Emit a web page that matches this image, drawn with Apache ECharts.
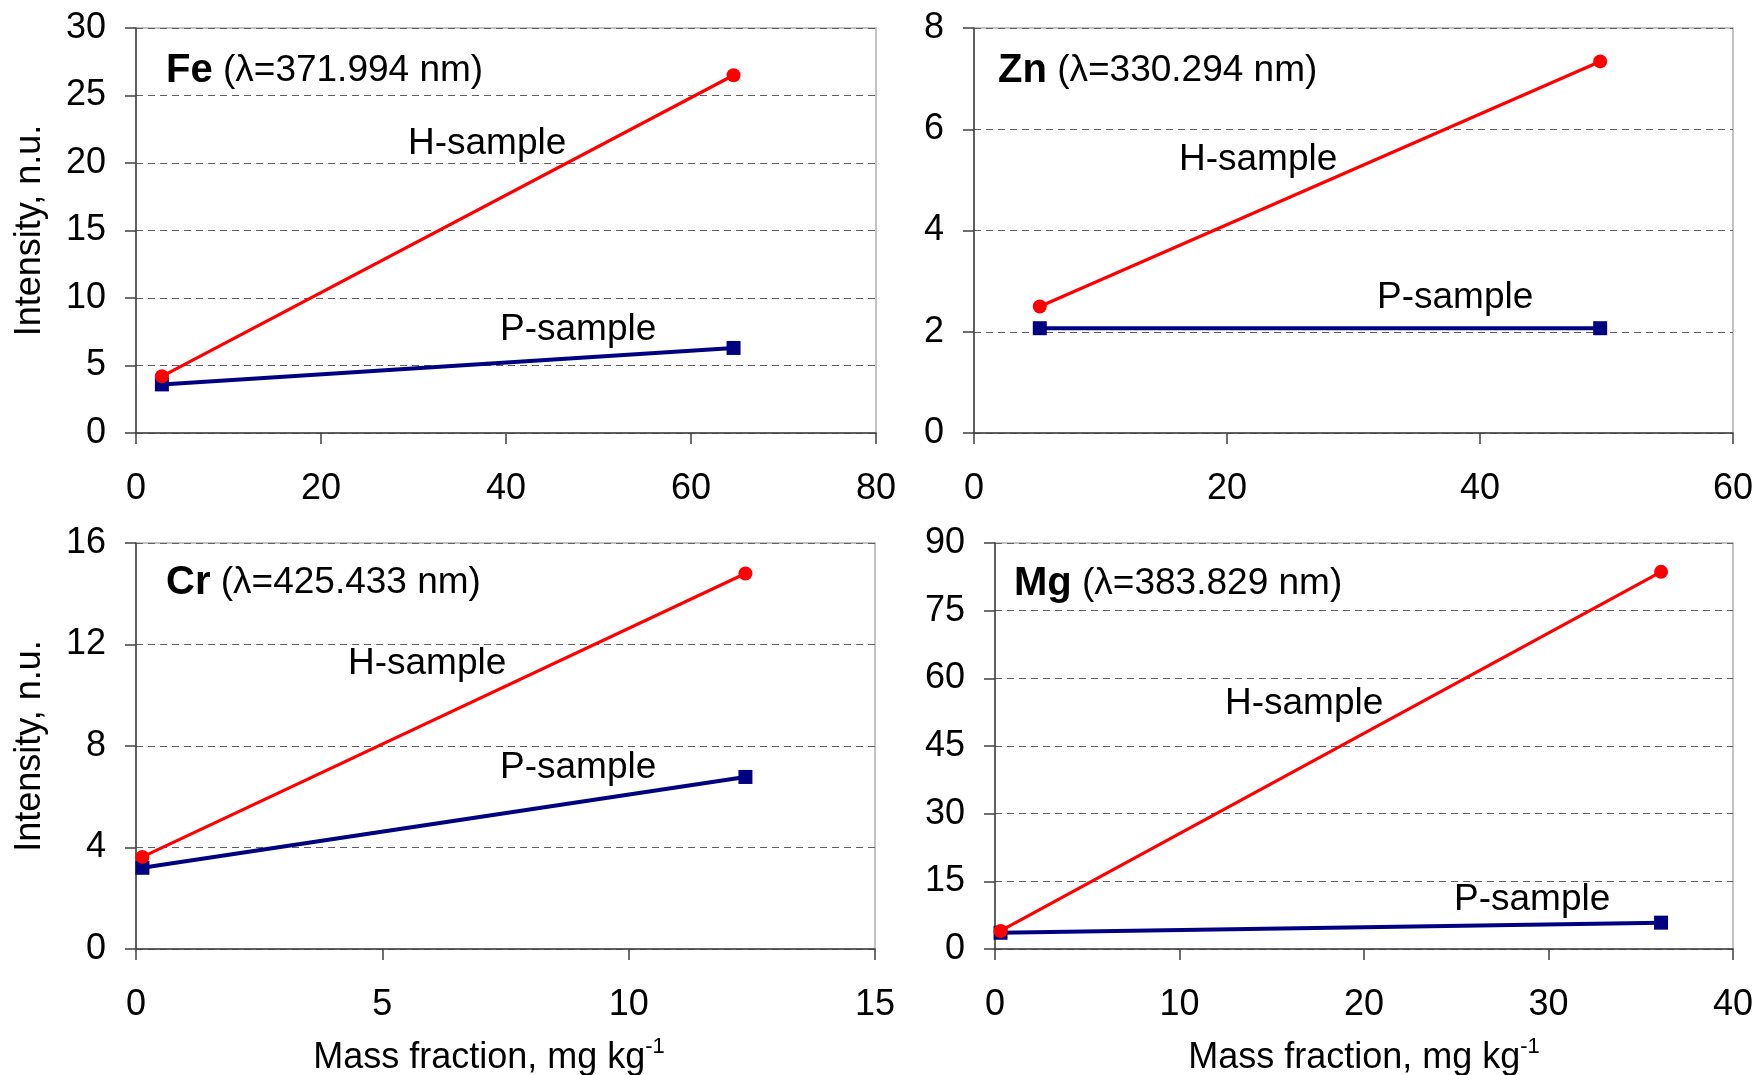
<!DOCTYPE html>
<html>
<head>
<meta charset="utf-8">
<script src="https://cdn.jsdelivr.net/npm/echarts@6/dist/echarts.min.js"></script>
<style>
  html, body { margin: 0; padding: 0; background: #fff; }
  #chart { width: 1758px; height: 1075px; }
</style>
</head>
<body>
<div id="chart"></div>
<script>
// values (x = mass fraction, y = intensity)
const feMass = [2.8, 64.6];
const feH = [4.2, 26.5];
const feP = [3.6, 6.3];

const znMass = [5.2, 49.5];
const znH = [2.5, 7.34];
const znP = [2.07, 2.07];

const crMass = [0.13, 12.37];
const crH = [3.63, 14.8];
const crP = [3.2, 6.78];

const mgMass = [0.3, 36.1];
const mgH = [4.0, 83.6];
const mgP = [3.6, 5.84];

const panelNames = ['Fe', 'Zn', 'Cr', 'Mg'];
const panelLines = ['371.994', '330.294', '425.433', '383.829'];
const xMax = [80, 60, 15, 40];
const xStep = [20, 20, 5, 10];
const yMax = [30, 8, 16, 90];
const yStep = [5, 2, 4, 15];

const FONT = '"Liberation Sans", Arial, sans-serif';
const AXIS_COLOR = '#404040';

var chart = echarts.init(document.getElementById('chart'));

// grid boxes in px
var grids = [
  { left: 136, top: 28, width: 740, height: 405 },
  { left: 974, top: 28, width: 759, height: 405 },
  { left: 136, top: 543, width: 739, height: 406 },
  { left: 995, top: 543, width: 738, height: 406 }
];

function pairs(xs, ys) {
  return xs.map(function (x, i) { return [x, ys[i]]; });
}

var masses = [feMass, znMass, crMass, mgMass];
var hVals = [feH, znH, crH, mgH];
var pVals = [feP, znP, crP, mgP];

var xAxes = [], yAxes = [], series = [];
grids.forEach(function (g, i) {
  g.show = true;
  g.borderColor = '#b0b0b0';
  g.borderWidth = 1.5;
  xAxes.push({
    type: 'value', gridIndex: i, min: 0, max: xMax[i], interval: xStep[i],
    axisLine: { show: true, onZero: false, lineStyle: { color: AXIS_COLOR, width: 1.5 } },
    axisTick: { show: true, length: 11, lineStyle: { color: AXIS_COLOR, width: 1.5 } },
    axisLabel: { margin: 38, fontSize: 36, color: '#000', fontFamily: FONT },
    splitLine: { show: false }
  });
  yAxes.push({
    type: 'value', gridIndex: i, min: 0, max: yMax[i], interval: yStep[i],
    name: i % 2 === 0 ? 'Intensity, n.u.' : '',
    nameLocation: 'middle', nameRotate: 90, nameGap: 88,
    nameTextStyle: { fontSize: 36, color: '#000', fontFamily: FONT },
    axisLine: { show: true, onZero: false, lineStyle: { color: AXIS_COLOR, width: 1.5 } },
    axisTick: { show: true, length: 11, lineStyle: { color: AXIS_COLOR, width: 1.5 } },
    axisLabel: { margin: 30, fontSize: 36, color: '#000', fontFamily: FONT },
    splitLine: { show: true, lineStyle: { color: '#606060', width: 1.2, type: [7, 5] } }
  });
  series.push({
    name: 'H-sample', type: 'line', xAxisIndex: i, yAxisIndex: i,
    data: pairs(masses[i], hVals[i]),
    symbol: 'circle', symbolSize: 14,
    lineStyle: { color: '#ff0000', width: 3.2 },
    itemStyle: { color: '#ff0000' },
    z: 4, animation: false
  });
  series.push({
    name: 'P-sample', type: 'line', xAxisIndex: i, yAxisIndex: i,
    data: pairs(masses[i], pVals[i]),
    symbol: 'rect', symbolSize: 14,
    lineStyle: { color: '#000080', width: 4 },
    itemStyle: { color: '#000080' },
    z: 3, animation: false
  });
});

// text annotations (left edge, cap centre)
var titlePos = [[166, 71], [998, 71], [166, 583], [1014, 584]];
var hPos = [[408, 144], [1179, 160], [348, 664], [1225, 704]];
var pPos = [[500, 330], [1377, 298], [500, 768], [1454, 900]];
var massPos = [[489, 1056], [1364, 1056]];

var graphics = [];
panelNames.forEach(function (n, i) {
  graphics.push({
    type: 'text', x: titlePos[i][0], y: titlePos[i][1],
    style: {
      text: '{b|' + n + '}{r| (λ=' + panelLines[i] + ' nm)}',
      verticalAlign: 'middle',
      rich: {
        b: { fontSize: 40, fontWeight: 'bold', fontFamily: FONT, fill: '#000', lineHeight: 44 },
        r: { fontSize: 37, fontFamily: FONT, fill: '#000', lineHeight: 44 }
      }
    }
  });
  graphics.push({
    type: 'text', x: hPos[i][0], y: hPos[i][1],
    style: { text: 'H-sample', fontSize: 37, fontFamily: FONT, fill: '#000', verticalAlign: 'middle' }
  });
  graphics.push({
    type: 'text', x: pPos[i][0], y: pPos[i][1],
    style: { text: 'P-sample', fontSize: 37, fontFamily: FONT, fill: '#000', verticalAlign: 'middle' }
  });
});
massPos.forEach(function (p) {
  graphics.push({
    type: 'text', x: p[0], y: p[1],
    style: {
      text: '{m|Mass fraction, mg kg}{s|-1}',
      align: 'center', verticalAlign: 'middle',
      rich: {
        m: { fontSize: 36, fontFamily: FONT, fill: '#000', lineHeight: 40, verticalAlign: 'bottom' },
        s: { fontSize: 22, fontFamily: FONT, fill: '#000', lineHeight: 40, verticalAlign: 'top' }
      }
    }
  });
});

chart.setOption({
  animation: false,
  grid: grids,
  xAxis: xAxes,
  yAxis: yAxes,
  series: series,
  graphic: graphics
});
</script>
</body>
</html>
